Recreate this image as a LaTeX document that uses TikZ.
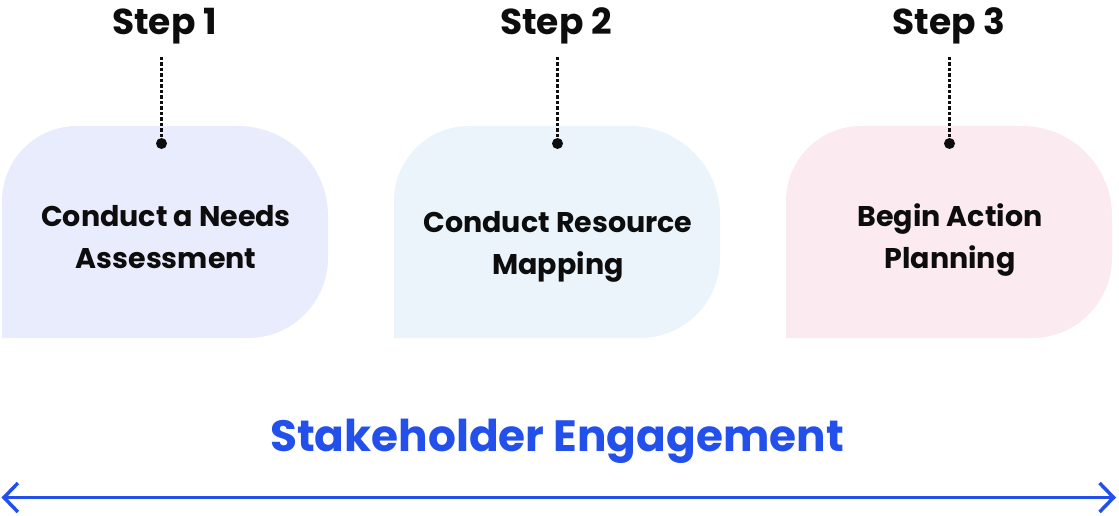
\documentclass[tikz,border=0pt]{standalone}
\usepackage{fontspec}
\setmainfont{Poppins}
\usetikzlibrary{arrows.meta}
\definecolor{ink}{HTML}{0D0D0D}
\definecolor{accent}{HTML}{2350EB}
\definecolor{fillA}{HTML}{E9ECFC}
\definecolor{fillB}{HTML}{EAF4FA}
\definecolor{fillC}{HTML}{FBEAF0}
\newcommand\stepblob[2]{%
  \fill[#2] (#1,177) -- (#1,314) arc[start angle=180,end angle=90,radius=75]
    -- (#1+236,389) arc[start angle=90,end angle=0,radius=90]
    -- (#1+326,257) arc[start angle=0,end angle=-90,radius=80] -- cycle;}
\begin{document}
\begin{tikzpicture}[x=1pt,y=1pt,
  steplabel/.style={anchor=base,inner sep=0pt,text=ink,font=\bfseries\fontsize{36}{40}\selectfont},
  boxtext/.style={align=center,inner sep=0pt,text=ink,font=\bfseries\fontsize{28.5}{42}\selectfont},
  pin/.style={circle,fill=ink,inner sep=0pt,minimum size=11pt},
  leader/.style={ink,line width=2.2pt,dash pattern=on 3.5pt off 2pt},
  band/.style={accent,line width=3.5pt,{Straight Barb[length=14pt,width=29pt]}-{Straight Barb[length=14pt,width=29pt]}}]
\useasboundingbox (0,0) rectangle (1119,515);
\stepblob{2}{fillA}
\stepblob{394}{fillB}
\stepblob{786}{fillC}
\node[boxtext] (b1) at (166,278) {Conduct a Needs\\Assessment};
\node[boxtext] (b2) at (558,268) {Conduct Resource\\Mapping};
\node[boxtext] (b3) at (950,275.4) {Begin Action\\Planning};
\node[steplabel] (s1) at (164.5,480) {Step 1};
\node[steplabel] (s2) at (556,480) {Step 2};
\node[steplabel] (s3) at (949,480) {Step 3};
\coordinate (t1) at (161.5,458);
\coordinate (t2) at (557.5,458);
\coordinate (t3) at (949.5,458);
\node[pin] (d1) at (161.5,371.5) {};
\node[pin] (d2) at (557.5,371.5) {};
\node[pin] (d3) at (949.5,371.5) {};
\draw[leader] (t1) -- (d1.center);
\draw[leader] (t2) -- (d2.center);
\draw[leader] (t3) -- (d3.center);
\node[anchor=base,inner sep=0pt,text=accent,font=\bfseries\fontsize{43.8}{50}\selectfont] (se) at (557,64) {Stakeholder Engagement};
\coordinate (aL) at (1.5,17.5);
\coordinate (aR) at (1116,17.5);
\draw[band] (aL) -- (aR);
\end{tikzpicture}
\end{document}
